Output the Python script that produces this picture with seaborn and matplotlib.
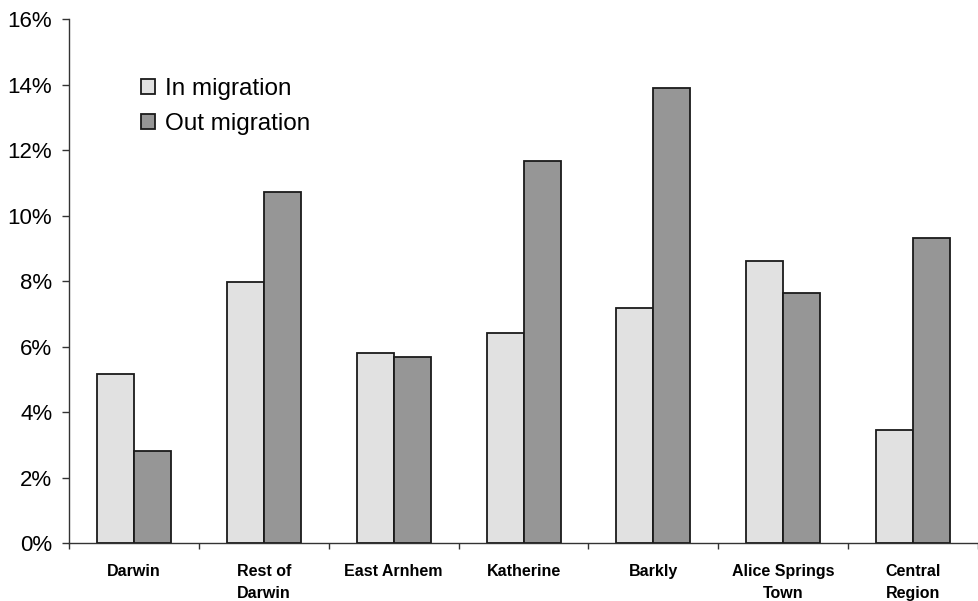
import matplotlib
matplotlib.use("Agg")
import matplotlib.pyplot as plt
import seaborn as sns
import pandas as pd
import numpy as np
from matplotlib.ticker import FuncFormatter, FixedLocator

regions = ["Darwin", "Rest of\nDarwin", "East Arnhem", "Katherine", "Barkly",
           "Alice Springs\nTown", "Central\nRegion"]
in_migration = [5.18, 7.99, 5.82, 6.41, 7.19, 8.62, 3.46]
out_migration = [2.82, 10.74, 5.68, 11.68, 13.89, 7.64, 9.31]
series = ["In migration", "Out migration"]
colors = ["#e1e1e1", "#969696"]

df = pd.DataFrame({
    "Region": regions * 2,
    "Rate": in_migration + out_migration,
    "Flow": [series[0]] * len(regions) + [series[1]] * len(regions),
})

sns.set_style("ticks")
plt.rcParams["font.family"] = ["Liberation Sans", "DejaVu Sans"]
plt.rcParams["text.color"] = "black"

fig = plt.figure(figsize=(9.79, 6.01), dpi=100)
ax = fig.add_axes([69 / 979, 1 - 543.3 / 601, 1 - 69 / 979 - 0.001, (543.3 - 19.3) / 601])

sns.barplot(data=df, x="Region", y="Rate", hue="Flow", order=regions,
            hue_order=series, palette=colors, width=0.57, gap=0,
            edgecolor="#1a1a1a", linewidth=1.3, saturation=1, ax=ax)

ax.set_ylim(0, 16)
ax.set_xlim(-0.5, len(regions) - 0.5)
ax.set_yticks(np.arange(0, 17, 2))
ax.yaxis.set_major_formatter(FuncFormatter(lambda v, _: f"{v:.0f}%"))
ax.tick_params(axis="y", labelsize=16, length=5, width=1, color="#333333",
               labelcolor="black", pad=7)

# category boundaries carry the x tick marks
ax.xaxis.set_minor_locator(FixedLocator(np.arange(-0.5, len(regions) + 0.5, 1)))
ax.tick_params(axis="x", which="minor", length=4, width=1, color="#333333")
ax.tick_params(axis="x", which="major", length=0, pad=15, labelcolor="black")
for lbl in ax.get_xticklabels():
    lbl.set_fontsize(11.5)
    lbl.set_fontweight("bold")
    lbl.set_verticalalignment("top")
    lbl.set_linespacing(1.6)

ax.set_xlabel("")
ax.set_ylabel("")
for side in ["top", "right"]:
    ax.spines[side].set_visible(False)
for side in ["left", "bottom"]:
    ax.spines[side].set_color("#333333")
    ax.spines[side].set_linewidth(1)

handles, labels = ax.get_legend_handles_labels()
leg = ax.legend(handles, labels, loc="upper left", bbox_to_anchor=(0.079, 0.888),
                frameon=False, fontsize=17.5, handlelength=0.58, handleheight=0.58,
                handletextpad=0.4, labelspacing=0.55, borderaxespad=0, borderpad=0)
for t in leg.get_texts():
    t.set_color("black")

fig.savefig("out.png", dpi=100)
